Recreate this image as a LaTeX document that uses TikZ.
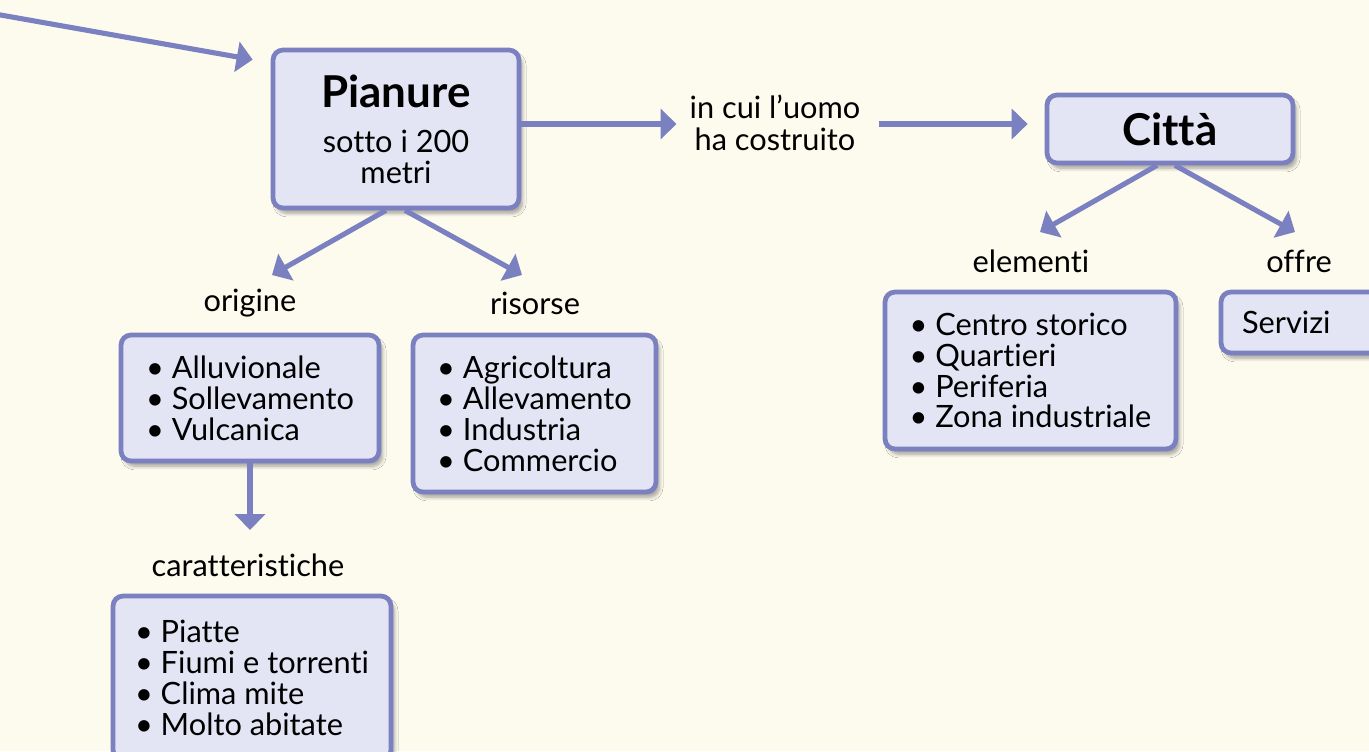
\documentclass[tikz,border=0pt]{standalone}
\usepackage{fontspec}
\setmainfont{Lato}[Ligatures={NoCommon}]
\usetikzlibrary{arrows.meta,calc,shadows.blur}
\definecolor{paper}{HTML}{FDFBEE}
\definecolor{boxfill}{HTML}{E3E4F4}
\definecolor{edge}{HTML}{7A80C0}
\newcommand{\bodysize}{\fontsize{17.5pt}{17.6pt}\selectfont}
\newcommand{\titlesize}{\fontsize{25pt}{28pt}\selectfont\bfseries}
\begin{document}
\begin{tikzpicture}[x=0.02cm, y=-0.02cm,
    every node/.style={font=\bodysize},
    box/.style={draw=edge, fill=boxfill, line width=2.7pt, rounded corners=0.2cm, inner sep=0pt,
      blur shadow={shadow xshift=2pt, shadow yshift=-3pt, shadow opacity=35, shadow blur steps=6}},
    listbox/.style={box, align=left},
    link/.style={draw=edge, line width=2.9pt, -{Triangle[length=0.32cm, width=0.6cm]}}]
  \useasboundingbox (0, 0) rectangle (1369, 751);
  \fill [paper] (0, 0) rectangle (1369, 751);

  \node [box, align=center, minimum width=4.92cm, minimum height=3.16cm] (pianure) at (396, 129)
    {{\titlesize Pianure}\\[8pt] sotto i 200\\ metri};
  \node [box, minimum width=4.92cm, minimum height=1.36cm] (citta) at (1170, 129) {\titlesize Città};
  \node [align=center] (uomo) at (775, 123) {in cui l’uomo\\[1pt] ha costruito};

  \node (origine) at (250, 303) {origine};
  \node (risorse) at (535, 303) {risorse};
  \node (caratt) at (248, 565) {caratteristiche};
  \node (elementi) at (1031, 261) {elementi};
  \node (offre) at (1299, 261) {offre};

  \node [listbox, minimum width=5.16cm, minimum height=2.52cm] (origbox) at (250, 398)
    {\textbullet\ Alluvionale\\ \textbullet\ Sollevamento\\ \textbullet\ Vulcanica};
  \node [listbox, minimum width=4.86cm, minimum height=3.14cm] (risbox) at (534.5, 413.5)
    {\textbullet\ Agricoltura\\ \textbullet\ Allevamento\\ \textbullet\ Industria\\ \textbullet\ Commercio};
  \node [listbox, minimum width=5.56cm, minimum height=3.28cm] (carbox) at (252, 678)
    {\textbullet\ Piatte\\ \textbullet\ Fiumi e torrenti\\ \textbullet\ Clima mite\\ \textbullet\ Molto abitate};
  \node [listbox, minimum width=5.82cm, minimum height=3.14cm] (elebox) at (1030.5, 370.5)
    {\textbullet\ Centro storico\\ \textbullet\ Quartieri\\ \textbullet\ Periferia\\ \textbullet\ Zona industriale};
  \node [box, align=left, inner xsep=0.42cm, text width=2.44cm, minimum height=1.22cm] (servbox) at (1303, 322.5)
    {Servizi};

  \coordinate (start) at (-5, 14);
  \draw [link] (start) -- ($(pianure.north west) + (-18, 12)$);
  \draw [link] ($(pianure.east) + (0, -5)$) -- ($(uomo.west) + (-7, 1)$);
  \draw [link] ($(uomo.east) + (12, 1)$) -- ($(citta.west) + (-17, -5)$);
  \draw [link] ($(pianure.south) + (-10, 0)$) -- ($(origine.center) + (22, -28)$);
  \draw [link] ($(pianure.south) + (9, 0)$) -- ($(risorse.center) + (-13, -28)$);
  \draw [link] (origbox.south) -- ($(origbox.south |- caratt.center) + (0, -35)$);
  \draw [link] ($(citta.south) + (-13, 0)$) -- ($(elementi.center) + (9, -29)$);
  \draw [link] ($(citta.south) + (5, 0)$) -- ($(offre.center) + (-4, -29)$);
\end{tikzpicture}
\end{document}
